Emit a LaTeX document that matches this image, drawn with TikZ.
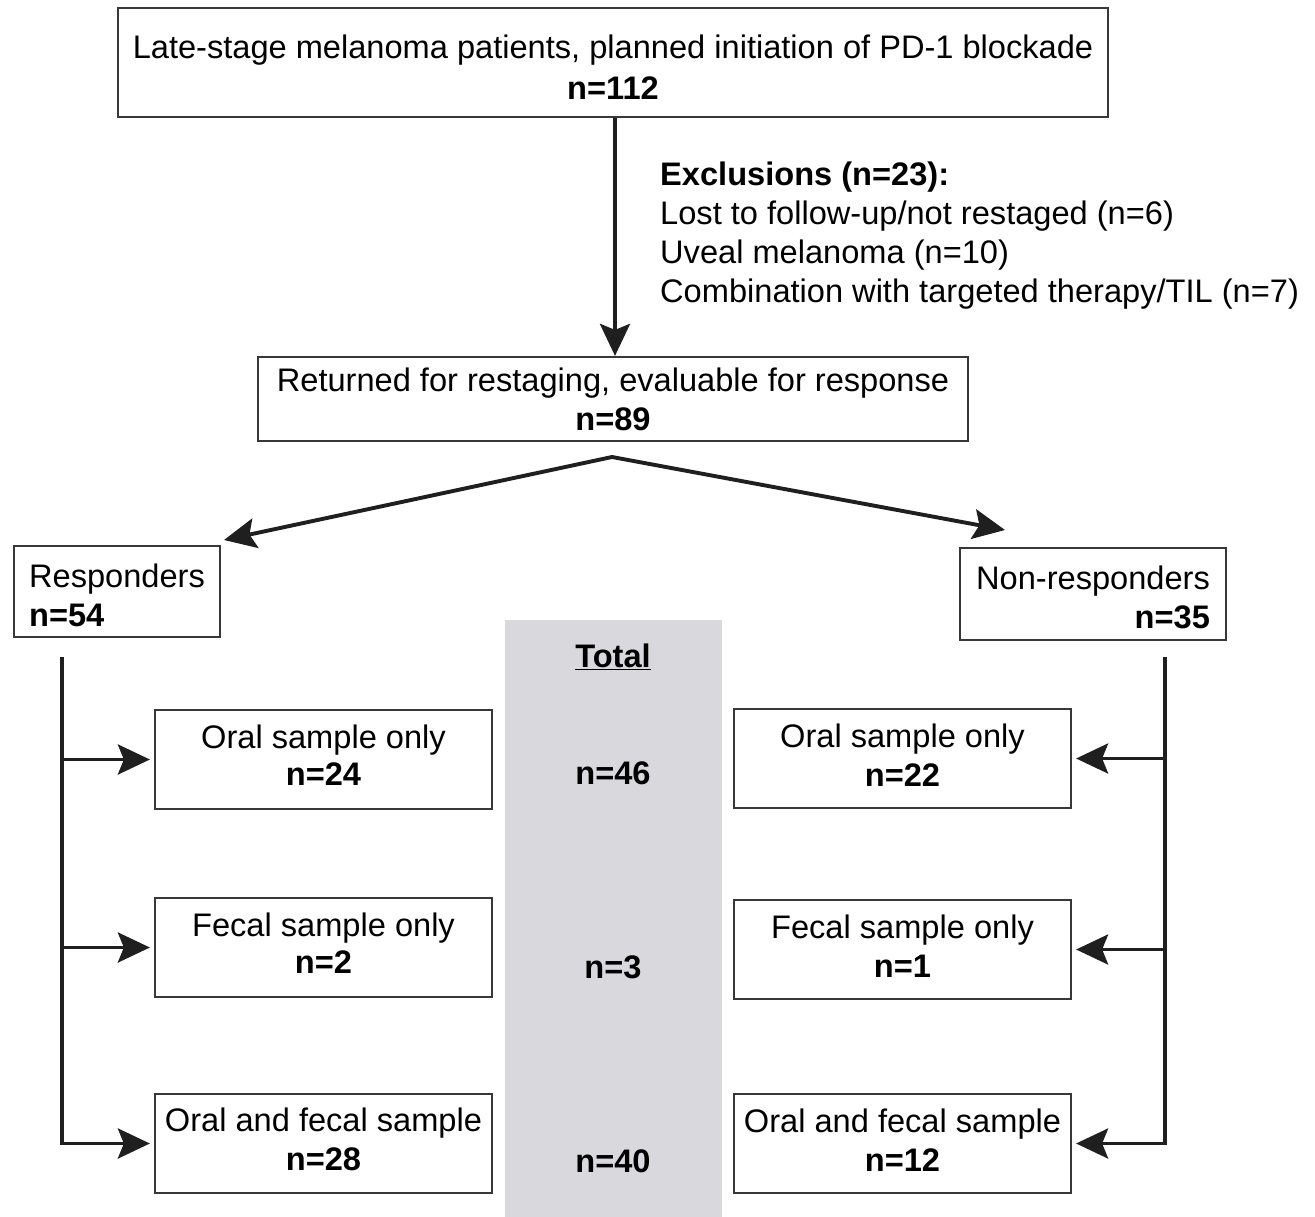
\documentclass[tikz,border=0pt]{standalone}
\usepackage{fontspec}
\setmainfont{Liberation Sans}
\usetikzlibrary{arrows.meta}
\definecolor{totalgray}{RGB}{217,217,221}
\newcommand\diagfont{\fontsize{32.6}{39}\selectfont}
\begin{document}
\begin{tikzpicture}[x=1pt,y=-1pt,
  box/.style={draw=black!78, line width=2.2pt, inner sep=0pt, align=center, font=\diagfont},
  plain/.style={inner sep=0pt, font=\diagfont},
  conn/.style={line width=3.9pt, draw=black!88, line join=miter},
  arr/.style={conn, -{Stealth[length=32pt,width=30pt,inset=6pt]}},
  darr/.style={conn, {Stealth[length=32pt,width=30pt,inset=6pt]}-{Stealth[length=32pt,width=30pt,inset=6pt]}}]
\useasboundingbox (0,0) rectangle (1315,1217);
\fill[totalgray] (505,620) rectangle (722,1217);

\node[box, minimum width=990pt, minimum height=109pt] (top) at (613,62.5)
  {\rule{0pt}{33pt}Late-stage melanoma patients, planned initiation of PD-1 blockade\\[2pt]\textbf{n=112}};
\node[box, minimum width=710pt, minimum height=84pt] (mid) at (613,399)
  {Returned for restaging, evaluable for response\\\textbf{n=89}};
\node[plain, anchor=west, align=left] (excl) at (660,236)
  {\textbf{Exclusions (n=23):}\\Lost to follow-up/not restaged (n=6)\\Uveal melanoma (n=10)\\Combination with targeted therapy/TIL (n=7)};

\node[box, align=left, minimum width=206pt, minimum height=91pt] (resp) at (117,591.5)
  {\rule{0pt}{32pt}Responders\\\textbf{n=54}};
\node[box, align=right, minimum width=266pt, minimum height=92pt] (nonresp) at (1093,594)
  {\rule{0pt}{31pt}Non-responders\\\textbf{n=35}};

\node[box, minimum width=337pt, minimum height=99pt] (lo) at (323.5,759.5) {Oral sample only\\[-2pt]\textbf{n=24}\rule[-8pt]{0pt}{8pt}};
\node[box, minimum width=337pt, minimum height=99pt] (lf) at (323.5,947.5) {Fecal sample only\\[-2pt]\textbf{n=2}\rule[-8pt]{0pt}{8pt}};
\node[box, minimum width=337pt, minimum height=99pt] (lof) at (323.5,1143.5) {Oral and fecal sample\\\textbf{n=28}\rule[-8pt]{0pt}{8pt}};
\node[box, minimum width=337pt, minimum height=99pt] (ro) at (902.5,758.5) {Oral sample only\\\textbf{n=22}\rule[-6pt]{0pt}{6pt}};
\node[box, minimum width=337pt, minimum height=99pt] (rf) at (902.5,949.5) {Fecal sample only\\\textbf{n=1}\rule[-6pt]{0pt}{6pt}};
\node[box, minimum width=337pt, minimum height=99pt] (rof) at (902.5,1143.5) {Oral and fecal sample\\\textbf{n=12}\rule[-6pt]{0pt}{6pt}};

\node[plain] (ttitle) at (613,657) {\textbf{\underline{Total}}};
\node[plain] (t1) at (613,773) {\textbf{n=46}};
\node[plain] (t2) at (613,967) {\textbf{n=3}};
\node[plain] (t3) at (613,1161) {\textbf{n=40}};

\draw[arr] (top.south -| 615,0) -- (mid.north -| 615,0);

\coordinate (apex) at (612,457);
\coordinate (ltip) at (224,540);
\coordinate (rtip) at (1005,530);
\draw[darr] (ltip) -- (apex) -- (rtip);

\coordinate (ltop) at (62,657);
\coordinate (rtop) at (1165,657);
\draw[arr, shorten >=4pt] (ltop) |- (lof.west);
\draw[arr, shorten >=4pt] (ltop |- lo.west) -- (lo.west);
\draw[arr, shorten >=4pt] (ltop |- lf.west) -- (lf.west);
\draw[arr, shorten >=4pt] (rtop) |- (rof.east);
\draw[arr, shorten >=4pt] (rtop |- ro.east) -- (ro.east);
\draw[arr, shorten >=4pt] (rtop |- rf.east) -- (rf.east);
\end{tikzpicture}
\end{document}
